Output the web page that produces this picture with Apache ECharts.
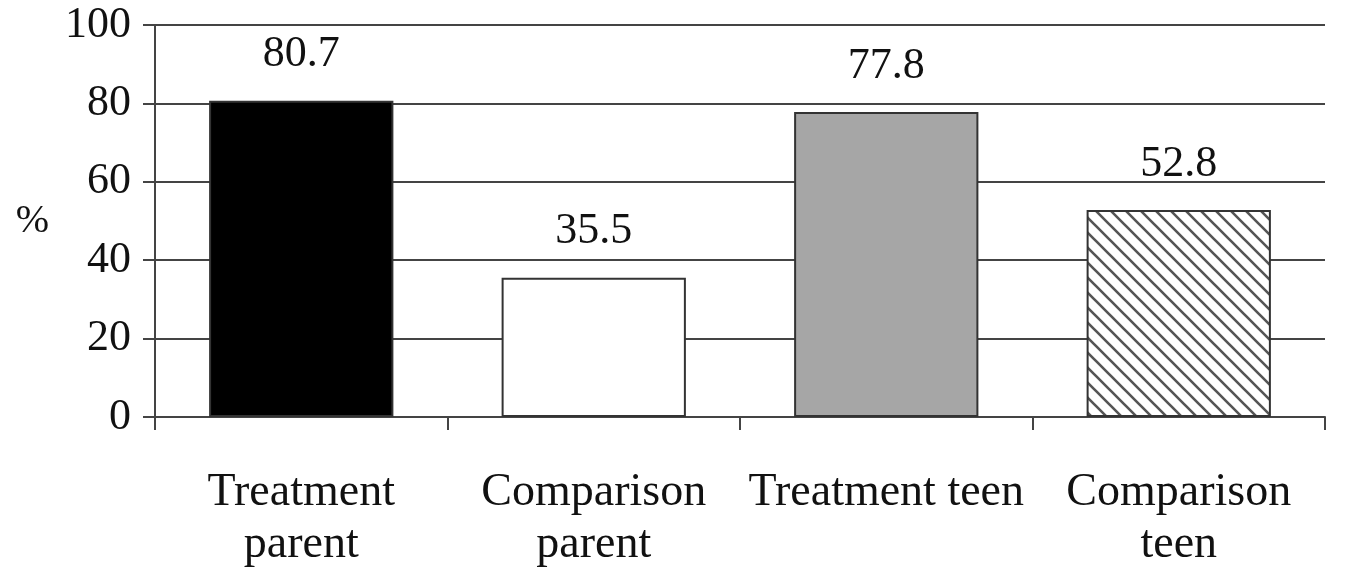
<!DOCTYPE html>
<html>
<head>
<meta charset="utf-8">
<script src="https://cdn.jsdelivr.net/npm/echarts@6/dist/echarts.min.js"></script>
<style>
  html, body { margin: 0; padding: 0; background: #fff; }
  #chart { width: 1351px; height: 572px; }
</style>
</head>
<body>
<div id="chart"></div>
<script>
var categories = ['Treatment\nparent', 'Comparison\nparent', 'Treatment teen', 'Comparison\nteen'];
var values = [80.7, 35.5, 77.8, 52.8];
var yTicks = [0, 20, 40, 60, 80, 100];

// hatch pattern for the last bar
function makeHatch() {
	var s = 15;
	var c = document.createElement('canvas');
	c.width = s; c.height = s;
	var ctx = c.getContext('2d');
	ctx.fillStyle = '#fff';
	ctx.fillRect(0, 0, s, s);
	ctx.strokeStyle = '#555';
	ctx.lineWidth = 2.6;
	ctx.beginPath();
	ctx.moveTo(0, 0); ctx.lineTo(s, s);
	ctx.moveTo(-4, s - 4); ctx.lineTo(4, s + 4);
	ctx.moveTo(s - 4, -4); ctx.lineTo(s + 4, 4);
	ctx.stroke();
	return c;
}

var fills = ['#000000', '#ffffff', '#a6a6a6', { image: makeHatch(), repeat: 'repeat' }];
var font = '"Liberation Serif", "Times New Roman", serif';

var chart = echarts.init(document.getElementById('chart'));
var option = {
	animation: false,
	grid: { left: 155, right: 26, top: 25, bottom: 155, outerBoundsMode: 'none', containLabel: false },
	xAxis: {
		type: 'category',
		data: categories,
		axisLine: { lineStyle: { color: '#444', width: 2 } },
		axisTick: { show: true, length: 13, lineStyle: { color: '#444', width: 2 } },
		axisLabel: {
			margin: 50, color: '#111', fontFamily: font, fontSize: 46, lineHeight: 52,
			interval: 0
		}
	},
	yAxis: {
		type: 'value',
		min: yTicks[0],
		max: yTicks[yTicks.length - 1],
		interval: 20,
		name: '%',
		nameLocation: 'middle',
		nameRotate: 0,
		nameGap: 106,
		nameTextStyle: { fontFamily: font, fontSize: 40, color: '#111' },
		axisLine: { show: true, lineStyle: { color: '#444', width: 2 } },
		axisTick: { show: true, length: 12, lineStyle: { color: '#444', width: 2 } },
		axisLabel: { margin: 24, color: '#111', fontFamily: font, fontSize: 44 },
		splitLine: { lineStyle: { color: '#444', width: 2 } }
	},
	series: [{
		type: 'bar',
		barWidth: '63%',
		data: values.map(function (v, i) {
			return {
				value: v,
				itemStyle: { color: fills[i], borderColor: '#333', borderWidth: 2 }
			};
		}),
		label: {
			show: true, position: 'top', distance: 24,
			fontFamily: font, fontSize: 44, color: '#111',
			formatter: function (p) { return p.value.toFixed(1); }
		}
	}]
};
chart.setOption(option);
</script>
</body>
</html>
